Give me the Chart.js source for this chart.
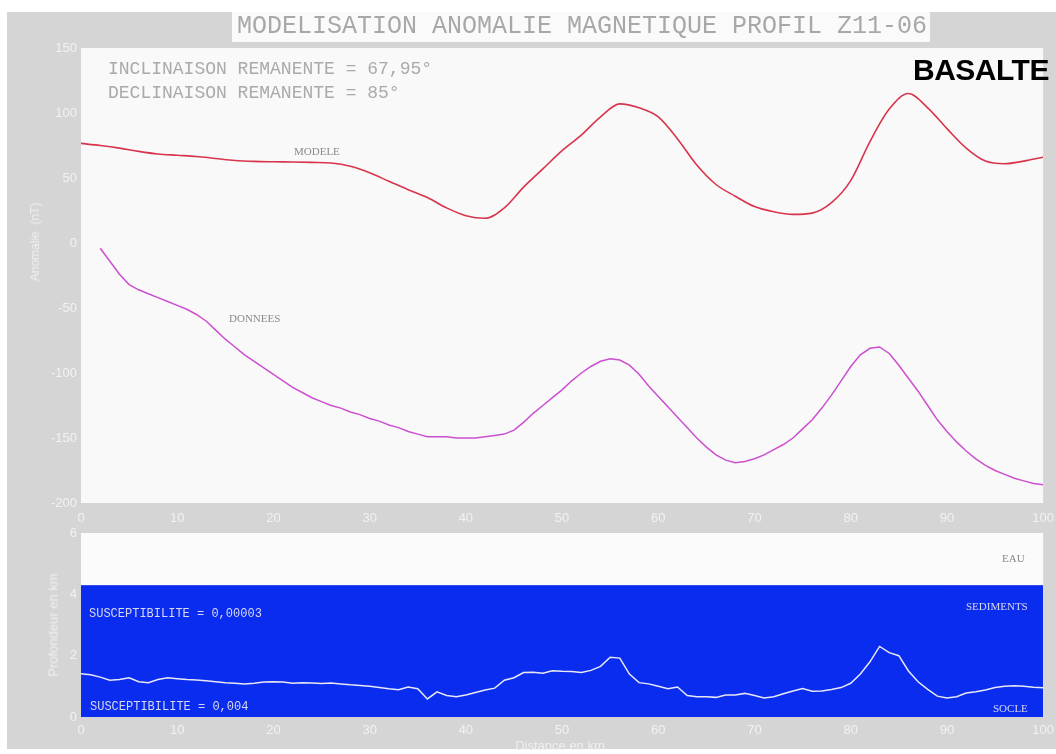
<!DOCTYPE html>
<html>
<head>
<meta charset="utf-8">
<script src="https://cdn.jsdelivr.net/npm/chart.js@4.4.1/dist/chart.umd.min.js"></script>
<style>
  html, body { margin:0; padding:0; background:#ffffff; }
  #wrap { position:relative; width:1056px; height:754px; overflow:hidden; }
  #panel { position:absolute; left:7px; top:12px; width:1049px; height:737px; background:#d5d5d5; }
  #titlebox { position:absolute; left:232px; top:12px; width:698px; height:30px; background:#fafafa; }
  canvas { position:absolute; left:0; top:0; }
  .t { position:absolute; white-space:nowrap; line-height:1; transform:translateY(-50%); }
  .mono { font-family:"Liberation Mono", "DejaVu Sans Mono", monospace; }
  .serif { font-family:"Liberation Serif", "DejaVu Serif", serif; }
  .rot { position:absolute; white-space:nowrap; line-height:1; font-family:"Liberation Sans", Arial, sans-serif; color:#efefef; transform:translate(-50%,-50%) rotate(-90deg); }
</style>
</head>
<body>
<div id="wrap">
  <div id="panel"></div>
  <div id="titlebox"></div>
  <canvas id="c1" width="1062" height="754"></canvas>
  <canvas id="c2" width="1060" height="754"></canvas>

  <div class="t mono" style="left:237px; top:26px; font-size:25px; color:#a8a8a8;">MODELISATION ANOMALIE MAGNETIQUE PROFIL Z11-06</div>
  <div class="t mono" style="left:108px; top:69px; font-size:18px; color:#aaaaaa;">INCLINAISON REMANENTE = 67,95°</div>
  <div class="t mono" style="left:108px; top:93px; font-size:18px; color:#aaaaaa;">DECLINAISON REMANENTE = 85°</div>
  <div class="t" style="left:913px; top:70px; font-size:30px; font-weight:bold; font-family:'Liberation Sans', Arial, sans-serif; color:#000; letter-spacing:-0.5px;">BASALTE</div>
  <div class="t serif" style="left:294px; top:151px; font-size:11px; color:#8a8a8a;">MODELE</div>
  <div class="t serif" style="left:229px; top:318px; font-size:11px; color:#8a8a8a;">DONNEES</div>

  <div class="t serif" style="left:1002px; top:558px; font-size:11px; color:#8a8a8a;">EAU</div>
  <div class="t serif" style="left:966px; top:606px; font-size:11px; color:#d8d8ee;">SEDIMENTS</div>
  <div class="t serif" style="left:993px; top:708px; font-size:11px; color:#d8d8ee;">SOCLE</div>
  <div class="t mono" style="left:89px; top:614px; font-size:12px; color:#d8d8ee;">SUSCEPTIBILITE = 0,00003</div>
  <div class="t mono" style="left:90px; top:707px; font-size:12px; color:#d8d8ee;">SUSCEPTIBILITE = 0,004</div>

  <div class="rot" style="left:35px; top:242px; font-size:12px;">Anomalie&nbsp;&nbsp;(nT)</div>
  <div class="rot" style="left:53px; top:625px; font-size:13px;">Profondeur en km</div>
  <div class="t" style="left:560px; top:745px; font-size:13px; font-family:'Liberation Sans', Arial, sans-serif; color:#efefef; transform:translate(-50%,-50%);">Distance en km</div>
</div>

<script>
// ---------- DATA ----------
const xTicks = [0, 10, 20, 30, 40, 50, 60, 70, 80, 90, 100];
const anomalyTicks = [-200, -150, -100, -50, 0, 50, 100, 150];
const depthTicks = [0, 2, 4, 6];

// MODELE (modelled anomaly, nT) at distance (km)
const modeleX = [0,2,4,6,8,10,12,14,16,18,20,22,24,26,28,30,32,34,36,38,40,42,44,46,48,50,52,54,56,58,60,62,64,66,68,70,72,74,76,78,80,82,84,86,88,90,92,94,96,98,100];
const modeleY = [76.6,75,73,70.5,68.5,67.5,66.5,65,63.5,62.8,62.5,62.3,62,61.5,59,54,47.5,41,35,27,21,19,27,43,57,71,83,97,107,104,97,80,60,45,36,28,24,22,23,31,48,78,103,115,104,88,73,63,61,63,66];

// DONNEES (measured anomaly, nT)
const donneesX = [2,3,4,5,6,7,8,9,10,11,12,13,14,15,16,17,18,19,20,21,22,23,24,25,26,27,28,29,30,31,32,33,34,35,36,37,38,39,40,41,42,43,44,45,46,47,48,49,50,51,52,53,54,55,56,57,58,59,60,61,62,63,64,65,66,67,68,69,70,71,72,73,74,75,76,77,78,79,80,81,82,83,84,85,86,87,88,89,90,91,92,93,94,95,96,97,98,99,100];
const donneesY = [-4,-14,-24,-32,-36,-39,-42,-45,-48,-51,-55,-60,-67,-74,-80,-86,-91,-96,-101,-106,-111,-115,-119,-122,-125,-127,-130,-132,-135,-137,-140,-142,-145,-147,-149,-149,-149,-150,-150,-150,-149,-148,-147,-144,-138,-131,-125,-119,-113,-106,-100,-95,-91,-89,-90,-94,-101,-110,-118,-126,-134,-142,-150,-157,-163,-167,-169,-168,-166,-163,-159,-155,-150,-143,-136,-127,-117,-106,-95,-86,-81,-80,-85,-94,-104,-114,-125,-136,-145,-153,-160,-166,-171,-175,-178,-181,-183,-185,-186];

// SOCLE (top of basement, km)
const socleX = [0,1,2,3,4,5,6,7,8,9,10,11,12,13,14,15,16,17,18,19,20,21,22,23,24,25,26,27,28,29,30,31,32,33,34,35,36,37,38,39,40,41,42,43,44,45,46,47,48,49,50,51,52,53,54,55,56,57,58,59,60,61,62,63,64,65,66,67,68,69,70,71,72,73,74,75,76,77,78,79,80,81,82,83,84,85,86,87,88,89,90,91,92,93,94,95,96,97,98,99,100];
const socleY = [1.41,1.38,1.30,1.20,1.22,1.28,1.15,1.12,1.22,1.28,1.25,1.22,1.21,1.18,1.15,1.12,1.10,1.08,1.10,1.14,1.15,1.14,1.10,1.12,1.11,1.09,1.11,1.08,1.05,1.03,1.00,0.96,0.92,0.89,0.98,0.92,0.59,0.82,0.70,0.66,0.72,0.80,0.88,0.94,1.20,1.28,1.45,1.46,1.43,1.51,1.49,1.48,1.45,1.52,1.65,1.95,1.92,1.40,1.12,1.08,1.00,0.92,0.98,0.70,0.66,0.66,0.64,0.72,0.72,0.77,0.70,0.62,0.66,0.76,0.85,0.93,0.84,0.85,0.90,0.96,1.10,1.40,1.80,2.30,2.10,2.00,1.50,1.15,0.90,0.68,0.62,0.66,0.78,0.82,0.88,0.96,1.00,1.02,1.00,0.97,0.95];

// SEDIMENTS (top of sediment layer = sea floor, km)
const sedimentsX = [0, 100];
const sedimentsY = [4.28, 4.28];

// ---------- HELPERS ----------
const zip = (xs, ys) => xs.map((x, i) => ({x: x, y: ys[i]}));

const bgPlugin = {
  id: 'bg',
  beforeDraw(chart, args, opts) {
    const a = chart.chartArea, ctx = chart.ctx;
    ctx.save();
    ctx.fillStyle = opts.color || '#fff';
    ctx.fillRect(a.left, a.top, a.right - a.left, a.bottom - a.top);
    ctx.restore();
  }
};

const tickFont = {family: "'Liberation Sans', Arial, sans-serif", size: 13};
const tickColor = '#f2f2f2';

function xScale(height, pad) {
  return {
    type: 'linear', min: 0, max: 100,
    afterBuildTicks: s => { s.ticks = xTicks.map(v => ({value: v})); },
    ticks: {font: tickFont, color: tickColor, padding: pad, maxRotation: 0, autoSkip: false},
    grid: {display: false, drawTicks: false},
    border: {display: false},
    afterFit: s => { s.height = height; }
  };
}
function yScale(min, max, tickList) {
  return {
    type: 'linear', min: min, max: max,
    afterBuildTicks: s => { s.ticks = tickList.map(v => ({value: v})); },
    ticks: {font: tickFont, color: tickColor, padding: 4, autoSkip: false},
    grid: {display: false, drawTicks: false},
    border: {display: false},
    afterFit: s => { s.width = 81; }
  };
}

// ---------- CHART 1 : anomalies ----------
new Chart(document.getElementById('c1'), {
  type: 'line',
  data: {
    datasets: [
      {label: 'MODELE', data: zip(modeleX, modeleY), borderColor: '#d8344c', borderWidth: 1.6,
       pointRadius: 0, tension: 0.4, cubicInterpolationMode: 'monotone', fill: false},
      {label: 'DONNEES', data: zip(donneesX, donneesY), borderColor: '#cc4fd0', borderWidth: 1.5,
       pointRadius: 0, tension: 0, fill: false}
    ]
  },
  options: {
    responsive: false, animation: false,
    layout: {padding: {left: 0, top: 48, right: 0, bottom: 226}},
    plugins: {legend: {display: false}, tooltip: {enabled: false}, bg: {color: '#f9f9f9'}},
    scales: {x: xScale(25, 8), y: yScale(-200, 150, anomalyTicks)}
  },
  plugins: [bgPlugin]
});

// ---------- CHART 2 : depth model ----------
new Chart(document.getElementById('c2'), {
  type: 'line',
  data: {
    datasets: [
      {label: 'SEDIMENTS', data: zip(sedimentsX, sedimentsY), borderColor: '#0a2cef', borderWidth: 1,
       backgroundColor: '#0a2cef', pointRadius: 0, fill: 'start', order: 2},
      {label: 'SOCLE', data: zip(socleX, socleY), borderColor: '#e8e8f4', borderWidth: 1.5,
       pointRadius: 0, tension: 0, fill: false, order: 1}
    ]
  },
  options: {
    responsive: false, animation: false,
    layout: {padding: {left: 0, top: 533, right: 0, bottom: 2}},
    plugins: {legend: {display: false}, tooltip: {enabled: false}, bg: {color: '#fbfbfb'}},
    scales: {x: xScale(35, 6), y: yScale(0, 6, depthTicks)}
  },
  plugins: [bgPlugin]
});
</script>
</body>
</html>
